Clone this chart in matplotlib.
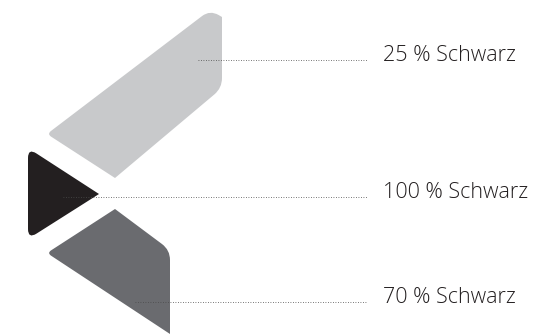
import matplotlib.pyplot as plt
from matplotlib.path import Path
from matplotlib.patches import PathPatch

# labels and shades of the three logo parts
labels = ['25 % Schwarz', '100 % Schwarz', '70 % Schwarz']
shades = ['#c8c9cb', '#231f20', '#6a6b6f']

# outline of each part in pixel coordinates (y down), with corner radius per vertex
shapes = [
    [(47, 134, 5), (210, 10, 10), (222, 17, 0), (222, 88, 10), (115, 178, 0)],
    [(28, 148, 10), (99, 194, 0), (28, 239, 10)],
    [(47, 253, 5), (115, 209, 0), (170, 250, 10), (170, 326, 0), (170, 334, 0)],
]
# leader lines: start x and y, all end at the same x
leader_start = [198, 63, 135]
leader_y = [60, 197, 302]
leader_end = 367
label_x = 383


def rounded_path(pts):
    verts, codes = [], []
    n = len(pts)
    for i, (x, y, r) in enumerate(pts):
        px, py, _ = pts[i - 1]
        nx, ny, _ = pts[(i + 1) % n]
        if r == 0:
            verts.append((x, y))
            codes.append(Path.MOVETO if i == 0 else Path.LINETO)
            continue
        d1 = ((px - x) ** 2 + (py - y) ** 2) ** 0.5
        d2 = ((nx - x) ** 2 + (ny - y) ** 2) ** 0.5
        a = (x + (px - x) * r / d1, y + (py - y) * r / d1)
        b = (x + (nx - x) * r / d2, y + (ny - y) * r / d2)
        verts += [a, (x, y), b]
        codes += [Path.MOVETO if i == 0 else Path.LINETO, Path.CURVE3, Path.CURVE3]
    verts.append(verts[0])
    codes.append(Path.CLOSEPOLY)
    return Path(verts, codes)


fig = plt.figure(figsize=(5.45, 3.36), dpi=100)
ax = fig.add_axes([0, 0, 1, 1])
ax.set_xlim(0, 545)
ax.set_ylim(336, 0)
ax.axis('off')

for pts, c in zip(shapes, shades):
    ax.add_patch(PathPatch(rounded_path(pts), facecolor=c, edgecolor='none'))

for x0, y, lab in zip(leader_start, leader_y, labels):
    ax.plot([x0, leader_end], [y, y], color='#4a4a4a', lw=0.6,
            linestyle=(0, (1, 2)))
    ax.text(label_x, y + 1, lab, fontsize=15.5, color='#231f20',
            family='Open Sans', weight='light', va='baseline', ha='left')

plt.savefig('out.png', dpi=100)
